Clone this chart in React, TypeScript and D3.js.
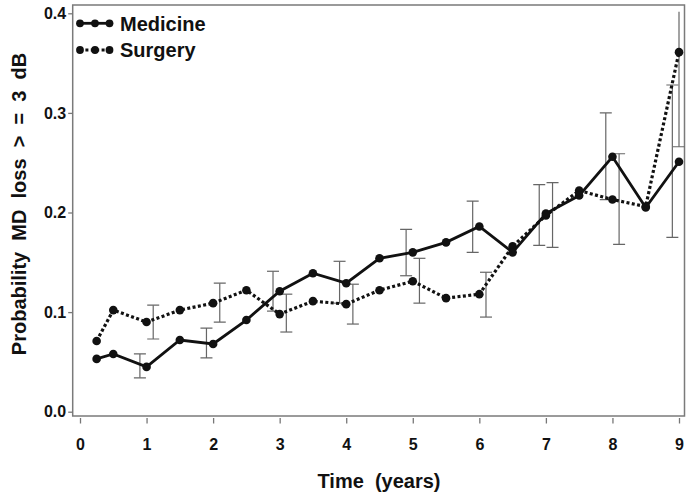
import React, { useEffect, useRef } from "react";
import * as d3 from "d3";

const times = [0.25, 0.5, 1, 1.5, 2, 2.5, 3, 3.5, 4, 4.5, 5, 5.5, 6, 6.5, 7, 7.5, 8, 8.5, 9];
const medicine = [0.053, 0.058, 0.045, 0.072, 0.068, 0.092, 0.121, 0.139, 0.129, 0.154, 0.16, 0.17, 0.186, 0.16, 0.199, 0.217, 0.256, 0.205, 0.251];
const surgery = [0.071, 0.102, 0.09, 0.102, 0.109, 0.122, 0.098, 0.111, 0.108, 0.122, 0.131, 0.114, 0.118, 0.166, 0.197, 0.222, 0.213, 0.206, 0.361];

// confidence bars, one per whole year
const barYears = [1, 2, 3, 4, 5, 6, 7, 8, 9];
const medicineLow = [0.034, 0.054, 0.101, 0.109, 0.1365, 0.16, 0.167, 0.213, 0.175];
const medicineHigh = [0.058, 0.084, 0.141, 0.151, 0.183, 0.2115, 0.228, 0.3, 0.328];
const surgeryLow = [0.073, 0.09, 0.08, 0.088, 0.109, 0.095, 0.165, 0.168, 0.266];
const surgeryHigh = [0.107, 0.129, 0.118, 0.128, 0.154, 0.14, 0.23, 0.259, 0.45];

const xTicks = [0, 1, 2, 3, 4, 5, 6, 7, 8, 9];
const yTicks = [0, 0.1, 0.2, 0.3, 0.4];
const legendLabels = ["Medicine", "Surgery"];

const width = 691;
const height = 497;
const frame = { left: 72.7, right: 684.5, top: 5, bottom: 416 };
const font = "'Liberation Sans', Arial, Helvetica, sans-serif";

const App: React.FC = () => {
  const svgRef = useRef<SVGSVGElement | null>(null);

  useEffect(() => {
    const svg = d3.select(svgRef.current);
    svg.selectAll("*").remove();

    const x = d3.scaleLinear().domain([0, 9]).range([80, 679]);
    const y = d3.scaleLinear().domain([0, 0.4]).range([411.7, 13.3]);

    svg
      .append("rect")
      .attr("x", frame.left)
      .attr("y", frame.top)
      .attr("width", frame.right - frame.left)
      .attr("height", frame.bottom - frame.top)
      .attr("fill", "white")
      .attr("stroke", "#7a7a7a")
      .attr("stroke-width", 1.5);

    svg
      .append("clipPath")
      .attr("id", "plot-clip")
      .append("rect")
      .attr("x", frame.left)
      .attr("y", y(0.4) - 1.6)
      .attr("width", frame.right - frame.left)
      .attr("height", frame.bottom - y(0.4) + 1.6);

    // y axis
    svg
      .append("g")
      .attr("transform", `translate(${frame.left},0)`)
      .call(d3.axisLeft(y).tickValues(yTicks).tickFormat(d3.format(".1f")).tickSize(4.5).tickPadding(2))
      .call((g) => g.select(".domain").remove())
      .call((g) => g.selectAll(".tick line").attr("stroke", "#777").attr("stroke-width", 1.3))
      .call((g) =>
        g.selectAll(".tick text").attr("fill", "#111").style("font", `bold 16px ${font}`)
      );

    // x axis
    svg
      .append("g")
      .attr("transform", `translate(0,${frame.bottom + 2})`)
      .call(d3.axisBottom(x).tickValues(xTicks).tickFormat(d3.format("d")).tickSize(5.5).tickPadding(15))
      .call((g) => g.select(".domain").remove())
      .call((g) => g.selectAll(".tick line").attr("stroke", "#777").attr("stroke-width", 1.3))
      .call((g) =>
        g.selectAll(".tick text").attr("fill", "#111").style("font", `bold 16px ${font}`)
      );

    // axis titles
    svg
      .append("text")
      .attr("x", 379)
      .attr("y", 488)
      .attr("text-anchor", "middle")
      .attr("fill", "#111")
      .style("font", `bold 20px ${font}`)
      .style("white-space", "pre")
      .text("Time  (years)");

    svg
      .append("text")
      .attr("transform", "translate(25.5,204) rotate(-90)")
      .attr("text-anchor", "middle")
      .attr("fill", "#111")
      .style("font", `bold 20px ${font}`)
      .style("white-space", "pre")
      .text("Probability  MD  loss  >  =  3  dB");

    // error bars
    const bars = svg.append("g").attr("clip-path", "url(#plot-clip)");
    const drawBars = (lo: number[], hi: number[], dodge: number) => {
      barYears.forEach((t, i) => {
        const bx = x(Math.min(t + dodge, 9));
        const g = bars.append("g").attr("stroke", "#666").attr("stroke-width", 1.2);
        g.append("line").attr("x1", bx).attr("x2", bx).attr("y1", y(lo[i])).attr("y2", y(hi[i]));
        [lo[i], hi[i]].forEach((v) => {
          g.append("line")
            .attr("x1", bx - 6)
            .attr("x2", bx + 6)
            .attr("y1", y(v))
            .attr("y2", y(v));
        });
      });
    };
    drawBars(medicineLow, medicineHigh, -0.1);
    drawBars(surgeryLow, surgeryHigh, 0.1);

    const line = d3
      .line<number>()
      .x((_, i) => x(times[i]))
      .y((d) => y(d));

    const series = [
      { values: surgery, dash: "3 2.4", width: 3.2 },
      { values: medicine, dash: null, width: 2.8 },
    ];

    series.forEach((s) => {
      svg
        .append("path")
        .datum(s.values)
        .attr("fill", "none")
        .attr("stroke", "#111")
        .attr("stroke-width", s.width)
        .attr("stroke-dasharray", s.dash)
        .attr("d", line);
      svg
        .append("g")
        .selectAll("circle")
        .data(s.values)
        .join("circle")
        .attr("cx", (_, i) => x(times[i]))
        .attr("cy", (d) => y(d))
        .attr("r", 4.3)
        .attr("fill", "#111");
    });

    // legend
    const legend = svg.append("g");
    legendLabels.forEach((label, i) => {
      const ly = 23.3 + i * 26.7;
      const row = legend.append("g");
      row
        .append("line")
        .attr("x1", 80)
        .attr("x2", 109.5)
        .attr("y1", ly)
        .attr("y2", ly)
        .attr("stroke", "#111")
        .attr("stroke-width", i === 0 ? 2.8 : 3.2)
        .attr("stroke-dasharray", i === 0 ? null : "3 2.4");
      [80, 95, 109.5].forEach((cx) =>
        row.append("circle").attr("cx", cx).attr("cy", ly).attr("r", 3.9).attr("fill", "#111")
      );
      row
        .append("text")
        .attr("x", 120)
        .attr("y", ly + 7.2)
        .attr("fill", "#111")
        .style("font", `bold 20px ${font}`)
        .text(label);
    });
  }, []);

  return (
    <div style={{ position: "absolute", left: 0, top: 0 }}>
      <svg ref={svgRef} width={width} height={height} style={{ display: "block", background: "white" }} />
    </div>
  );
};

export default App;
